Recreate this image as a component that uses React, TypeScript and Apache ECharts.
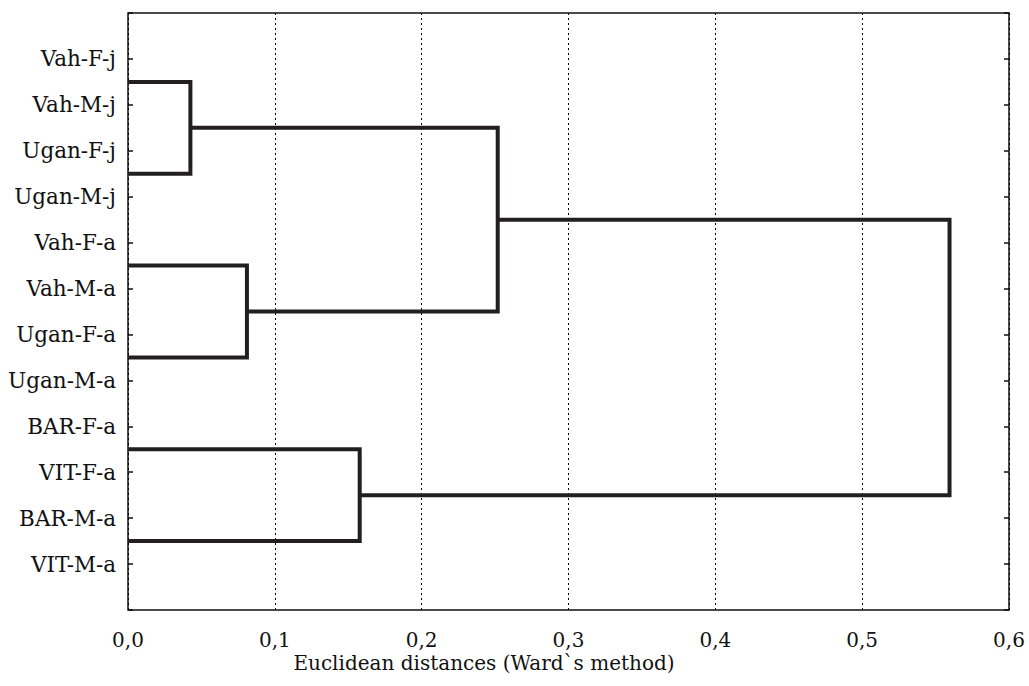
import React, { useEffect, useRef } from "react";
import * as echarts from "echarts";

// Leaf labels, top to bottom (y rows 1..12)
const leafLabels = [
  "Vah-F-j", "Vah-M-j", "Ugan-F-j", "Ugan-M-j",
  "Vah-F-a", "Vah-M-a", "Ugan-F-a", "Ugan-M-a",
  "BAR-F-a", "VIT-F-a", "BAR-M-a", "VIT-M-a",
];

// Rows (in label units) where the dendrogram's leaf branches are drawn
const branchRows = [1.5, 3.5, 5.5, 7.5, 9.5, 11.5];

// Linkage: node ids 0..5 are leaves, each merge creates node 6 + k
const mergeLeft = [0, 2, 4, 6, 9];
const mergeRight = [1, 3, 5, 7, 8];
const mergeHeight = [0.0425, 0.081, 0.1578, 0.2518, 0.5595];

const xMin = 0;
const xMax = 0.6;
const xStep = 0.1;

const axisTitle = "Euclidean distances (Ward`s method)";

const FONT = "DejaVu Serif";
const FS = 20;
const FS_Y = 21.5;

function buildBranches() {
  const nodeX: number[] = branchRows.map(() => 0);
  const nodeY: number[] = branchRows.slice();
  const segs: number[][][] = [];
  for (let k = 0; k < mergeHeight.length; k++) {
    const a = mergeLeft[k];
    const b = mergeRight[k];
    const h = mergeHeight[k];
    segs.push([
      [nodeX[a], nodeY[a]],
      [h, nodeY[a]],
      [h, nodeY[b]],
      [nodeX[b], nodeY[b]],
    ]);
    nodeX.push(h);
    nodeY.push((nodeY[a] + nodeY[b]) / 2);
  }
  return segs;
}

export default function App() {
  const ref = useRef<HTMLDivElement>(null);

  useEffect(() => {
    document.body.style.margin = "0";
    if (!ref.current) return;
    const chart = echarts.init(ref.current, null, { renderer: "svg" });
    const segs = buildBranches();
    const yLabel = (v: number) => {
      const i = Math.round(v);
      return i >= 1 && i <= leafLabels.length ? leafLabels[i - 1] : "";
    };
    const commonY = {
      type: "value",
      min: 0,
      max: leafLabels.length + 1,
      interval: 1,
      inverse: true,
      axisLine: { show: false },
      splitLine: { show: false },
      axisTick: { show: true, inside: true, length: 5, lineStyle: { color: "#111", width: 1.5 } },
    };
    chart.setOption({
      animation: false,
      grid: {
        left: 128,
        right: 20,
        top: 13,
        bottom: 76,
        show: true,
        borderColor: "#111",
        borderWidth: 1.5,
        containLabel: false,
      },
      xAxis: {
        type: "value",
        min: xMin,
        max: xMax,
        interval: xStep,
        axisLine: { show: false },
        axisTick: { show: false },
        splitLine: {
          show: true,
          lineStyle: { color: "#000", width: 1, type: [2, 3] },
        },
        axisLabel: {
          margin: 22,
          fontFamily: FONT,
          fontSize: FS,
          lineHeight: 15,
          color: "#111",
          formatter: (v: number) => v.toFixed(1).replace(".", ","),
        },
      },
      yAxis: [
        {
          ...commonY,
          position: "left",
          axisLabel: {
            margin: 12,
            fontFamily: FONT,
            fontSize: FS_Y,
            color: "#111",
            padding: [6, 0, 0, 0],
            formatter: yLabel,
          },
        },
        {
          ...commonY,
          position: "right",
          axisLabel: { show: false },
        },
      ],
      graphic: [
        {
          type: "text",
          x: 484,
          y: 663,
          style: {
            text: axisTitle,
            fontFamily: FONT,
            fontSize: FS,
            lineHeight: 15,
            fill: "#111",
            textAlign: "center",
            textVerticalAlign: "middle",
          },
        },
      ],
      series: segs.map((d) => ({
        type: "line",
        data: d,
        showSymbol: false,
        symbol: "none",
        clip: false,
        lineStyle: { color: "#231f20", width: 4, join: "miter", cap: "butt" },
      })),
    });
    return () => chart.dispose();
  }, []);

  return <div ref={ref} style={{ width: 1029, height: 686 }} />;
}
